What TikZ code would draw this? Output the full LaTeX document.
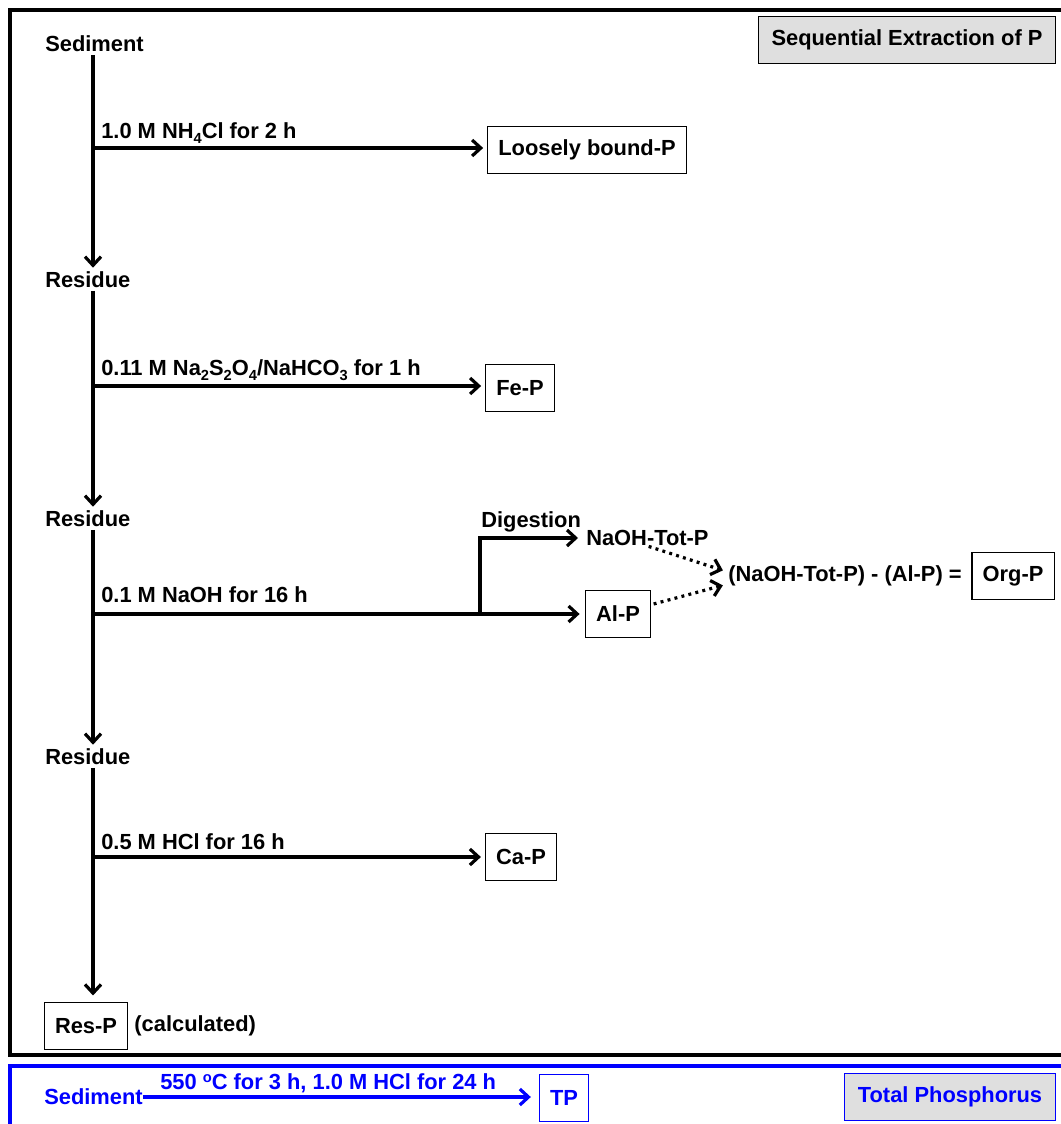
\documentclass[tikz,border=0pt]{standalone}
\usepackage{fontspec}
\setmainfont{Liberation Sans}
\usetikzlibrary{arrows.meta,positioning}
\newcommand{\chemsub}[1]{\raisebox{-0.45ex}{\fontsize{11}{11}\selectfont #1}}

\begin{document}
\begin{tikzpicture}[x=0.75pt,y=-0.75pt,
    every node/.style={font=\fontsize{16.4}{19}\selectfont\bfseries},
    txt/.style={inner sep=0pt, anchor=west},
    lbl/.style={inner sep=0pt, anchor=base west},
    pbox/.style={draw, line width=0.8pt, inner xsep=8pt, minimum height=35pt},
    arr/.style={line width=2.4pt, -{Straight Barb[length=6.5pt,width=12pt,line width=2.4pt]}},
    dotarr/.style={line width=2.4pt, dash pattern=on 2.2pt off 3.2pt, -{Straight Barb[length=6.5pt,width=12pt,line width=2.4pt]}}]
    \useasboundingbox (0,0) rectangle (1060,1124);

    % frames
    \draw[line width=2.6pt] (1075,10) -- (10,10) -- (10,1055) -- (1075,1055);
    \draw[blue, line width=2.6pt] (10,1135) -- (10,1066) -- (1075,1066);
    \node[pbox, fill=gray!25, minimum width=223pt] (seq) at (907,40) {Sequential Extraction of P};

    % main chain
    \coordinate (trunk) at (93,0);
    \node[txt] (sed) at (45,44) {Sediment};
    \node[txt] (res1) at (45,280) {Residue};
    \node[txt] (res2) at (45,519) {Residue};
    \node[txt] (res3) at (45,757) {Residue};
    \node[pbox] (resp) at (86,1026) {Res-P};
    \node[txt, right=4.5pt of resp] (calc) {(calculated)};

    \draw[arr, shorten <=2pt, shorten >=3pt] (sed.south -| trunk) -- (res1.north -| trunk);
    \draw[arr, shorten <=2pt, shorten >=3pt] (res1.south -| trunk) -- (res2.north -| trunk);
    \draw[arr, shorten <=2pt, shorten >=3pt] (res2.south -| trunk) -- (res3.north -| trunk);
    \draw[arr, shorten <=2pt, shorten >=5pt] (res3.south -| trunk) -- (resp.north -| trunk);

    % Step 1
    \coordinate (b1) at (93,148);
    \node[pbox] (loose) at (587,150) {Loosely bound-P};
    \node[lbl] (l1) at (101,138) {1.0 M NH\chemsub{4}Cl for 2 h};
    \draw[arr, shorten >=3pt] (b1) -- (b1 -| loose.west);

    % Step 2
    \coordinate (b2) at (93,386);
    \node[pbox] (fep) at (520,388) {Fe-P};
    \node[lbl] (l2) at (101,375) {0.11 M Na\chemsub{2}S\chemsub{2}O\chemsub{4}/NaHCO\chemsub{3} for 1 h};
    \draw[arr, shorten >=3pt] (b2) -- (b2 -| fep.west);

    % Step 3
    \coordinate (b3) at (93,614);
    \coordinate (br) at (480,614);
    \node[pbox] (alp) at (618,614) {Al-P};
    \node[lbl] (l3) at (101,602) {0.1 M NaOH for 16 h};
    \node[txt] (naoh) at (586,538) {NaOH-Tot-P};
    \node[lbl] (dig) at (481,527) {Digestion};
    \node[txt] (eq) at (728,576) {(NaOH-Tot-P) - (Al-P) =};
    \node[pbox] (orgp) at (1013,576) {Org-P};
    \draw[arr, shorten >=4pt] (b3) -- (alp.west);
    \draw[arr, shorten >=6pt] (br) |- (naoh.west);
    \draw[dotarr, shorten <=1pt, shorten >=4pt] (naoh.south) -- ([yshift=3pt]eq.west);
    \draw[dotarr, shorten <=2pt, shorten >=4pt] ([yshift=7pt]alp.east) -- ([yshift=-6pt]eq.west);

    % Step 4
    \coordinate (b4) at (93,857);
    \node[pbox] (cap) at (521,857) {Ca-P};
    \node[lbl] (l4) at (101,849) {0.5 M HCl for 16 h};
    \draw[arr, shorten >=3pt] (b4) -- (cap.west);

    % Total phosphorus
    \node[txt, blue] (bsed) at (44,1097) {Sediment};
    \node[pbox, blue] (tp) at (564,1098) {TP};
    \node[lbl, blue] (l5) at (160,1089) {550 \raisebox{0.6ex}{\fontsize{11}{11}\selectfont o}C for 3 h, 1.0 M HCl for 24 h};
    \draw[arr, blue, shorten >=6pt] (bsed.east) -- (bsed.east -| tp.west);
    \node[pbox, blue, fill=gray!25, minimum width=158pt] (totp) at (950,1097) {Total Phosphorus};
\end{tikzpicture}
\end{document}
